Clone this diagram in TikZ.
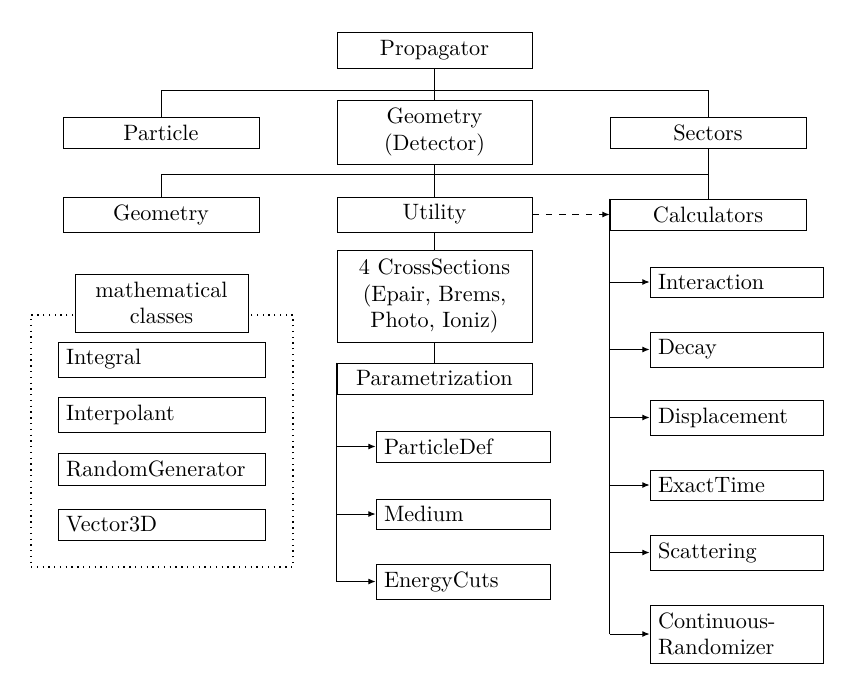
\documentclass[tikz,border=0pt]{standalone}
\usetikzlibrary{arrows.meta}
\begin{document}
\begin{tikzpicture}[x=0.45pt,y=-0.45pt,
  box/.style={draw, line width=0.4pt, inner sep=0pt, align=center, fill=white},
  sz/.style 2 args={minimum width=#1*0.45pt, minimum height=#2*0.45pt},
  lft/.style={align=left, inner xsep=3.6pt, inner ysep=0pt},
  arr/.style={-{Latex[length=3.2pt,width=2.6pt]}},
  conn/.style={line width=0.4pt}]
\useasboundingbox (0,0) rectangle (844,672);

% dotted group frame
\node[draw, dotted, line width=0.6pt, sz={262}{252}, inner sep=0pt] (grp) at (162,441) {};

% top levels
\node[box, sz={195}{36}] (prop) at (434.5,50) {Propagator};
\node[box, sz={196}{31}] (part) at (161,132.5) {Particle};
\node[box, sz={195}{64}] (geod) at (434.5,132) {Geometry\\(Detector)};
\node[box, sz={196}{31}] (sec) at (708,132.5) {Sectors};
\node[box, sz={196}{35}] (geo) at (161,214.5) {Geometry};
\node[box, sz={195}{35}] (util) at (434.5,214.5) {Utility};
\node[box, sz={196}{31}] (calc) at (708,214.5) {Calculators};
\node[box, sz={195}{92}] (cs) at (434.5,296) {4 CrossSections\\(Epair, Brems,\\Photo, Ioniz)};
\node[box, sz={195}{31}] (param) at (434.5,378.5) {Parametrization};

% parametrization children
\node[box, lft, sz={174}{31}, text width=71.1pt] (pd) at (463,446.5) {ParticleDef};
\node[box, lft, sz={174}{30}, text width=71.1pt] (med) at (463,514) {Medium};
\node[box, lft, sz={174}{35}, text width=71.1pt] (ec) at (463,581.5) {EnergyCuts};

% calculators children
\node[box, lft, sz={173}{30}, text width=70.65pt] (inter) at (736.5,282) {Interaction};
\node[box, lft, sz={173}{35}, text width=70.65pt] (dec) at (736.5,349.5) {Decay};
\node[box, lft, sz={173}{35}, text width=70.65pt] (disp) at (736.5,417.5) {Displacement};
\node[box, lft, sz={173}{30}, text width=70.65pt] (et) at (736.5,485) {ExactTime};
\node[box, lft, sz={173}{35}, text width=70.65pt] (scat) at (736.5,552.5) {Scattering};
\node[box, lft, sz={173}{58}, text width=70.65pt] (cr) at (736.5,634) {Continuous-\\Randomizer};

% mathematical classes
\node[box, sz={173}{58}] (mc) at (161.5,303) {mathematical\\classes};
\node[box, lft, sz={207}{35}, text width=85.95pt] (integ) at (161.5,359.5) {Integral};
\node[box, lft, sz={207}{35}, text width=85.95pt] (interp) at (161.5,414.5) {Interpolant};
\node[box, lft, sz={207}{32}, text width=85.95pt] (rg) at (161.5,469) {RandomGenerator};
\node[box, lft, sz={207}{31}, text width=85.95pt] (v3) at (161.5,524.5) {Vector3D};

% connectors
\draw[conn] (prop.south) -- (geod.north);
\draw[conn] (part.north) -- ++(0,-26) -| (sec.north);
\draw[conn] (sec.south) -- (calc.north);
\draw[conn] (sec.south) -- ++(0,26) -| (geo.north);
\draw[conn] (geod.south) -- (util.north);
\draw[conn] (util.south) -- (cs.north);
\draw[conn] (cs.south) -- (param.north);
\draw[conn, dashed, arr] (util.east) -- (calc.west);

\draw[conn] (param.north west) -- (param.west |- ec.west);
\foreach \t in {pd,med,ec} \draw[conn, arr] (param.west |- \t.west) -- (\t.west);

\draw[line width=0.8pt] (calc.north west) -- (calc.west |- cr.west);
\foreach \t in {inter,dec,disp,et,scat,cr} \draw[conn, arr] (calc.west |- \t.west) -- (\t.west);
\end{tikzpicture}
\end{document}
